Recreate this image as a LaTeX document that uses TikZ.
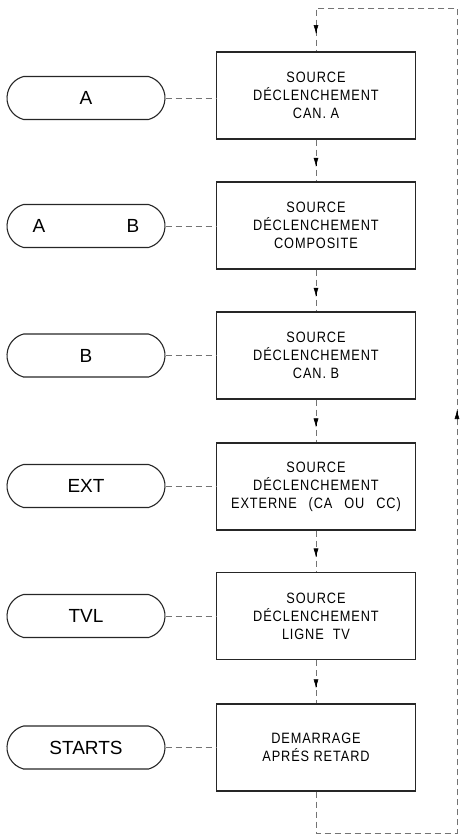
\documentclass[tikz,border=0pt]{standalone}
\usepackage{fontspec}
\setmainfont{Liberation Sans}
\newfontfamily\boxfont[LetterSpace=6,FakeStretch=0.85]{Liberation Sans}
\usetikzlibrary{shapes.misc,arrows.meta,calc}
\tikzset{
  stepbox/.style={draw=black!85,line width=1.1pt,minimum width=199pt,minimum height=87pt,
    inner sep=0pt,align=center,font=\boxfont\fontsize{15}{18}\selectfont},
  pill/.style={draw=black!85,line width=1.1pt,rounded rectangle,rounded rectangle arc length=150,
    minimum width=158pt,minimum height=43pt,inner sep=0pt,font=\fontsize{19}{22}\selectfont},
  link/.style={draw=black!55,line width=0.8pt,dash pattern=on 6pt off 4pt},
  tip/.style={draw=black,line width=0.6pt,-{Latex[length=9pt,width=5pt]}},
}
\begin{document}
\begin{tikzpicture}[x=1pt,y=-1pt]
\useasboundingbox (0,0) rectangle (460,836);
% boxes
\node[stepbox] (b1) at (316,95.5) {SOURCE\\D\'ECLENCHEMENT\\CAN. A};
\node[stepbox] (b2) at (316,225.5) {SOURCE\\D\'ECLENCHEMENT\\COMPOSITE};
\node[stepbox] (b3) at (316,355.5) {SOURCE\\D\'ECLENCHEMENT\\CAN. B};
\node[stepbox] (b4) at (316,486.5) {SOURCE\\D\'ECLENCHEMENT\\EXTERNE\hspace{0.5em} (CA\hspace{0.5em} OU\hspace{0.5em} CC)};
\node[stepbox] (b5) at (316,616) {SOURCE\\D\'ECLENCHEMENT\\LIGNE\hspace{0.3em} TV};
\node[stepbox] (b6) at (316,747.5) {DEMARRAGE\\APR\'ES RETARD};
% pills
\node[pill] (p1) at (86,98) {A};
\node[pill] (p2) at (86,226) {};
\node (pa) at (39,226) {\fontsize{19}{22}\selectfont A};
\node (pb) at (133,226) {\fontsize{19}{22}\selectfont B};
\node[pill] (p3) at (86,355.5) {B};
\node[pill] (p4) at (86,486) {EXT};
\node[pill] (p5) at (86,616) {TVL};
\node[pill] (p6) at (86,747.5) {STARTS};
% horizontal links
\foreach \i in {1,...,6} {\draw[link] (p\i.east) -- (p\i.east -| b\i.west);}
% vertical links
\foreach \a/\b in {b1/b2,b2/b3,b3/b4,b4/b5,b5/b6} {
  \draw[link] (\a.south) -- (\b.north);
  \coordinate (m) at ($(\a.south)!0.65!(\b.north)$);
  \draw[tip] ($(m)+(0,-1)$) -- (m);
}
% loop back
\coordinate (c1) at (316,833);
\coordinate (c2) at (457,833);
\coordinate (c3) at (457,8);
\coordinate (c4) at (316,8);
\coordinate (up) at (455,410);
\coordinate (dn) at (316,34);
\draw[link] (b6.south) -- (c1) -- (c2) -- (c3) -- (c4) -- (b1.north);
\draw[tip] ($(dn)+(0,-1)$) -- (dn);
\draw[tip] ($(c2 |- up)+(0,1)$) -- (c2 |- up);
\end{tikzpicture}
\end{document}
